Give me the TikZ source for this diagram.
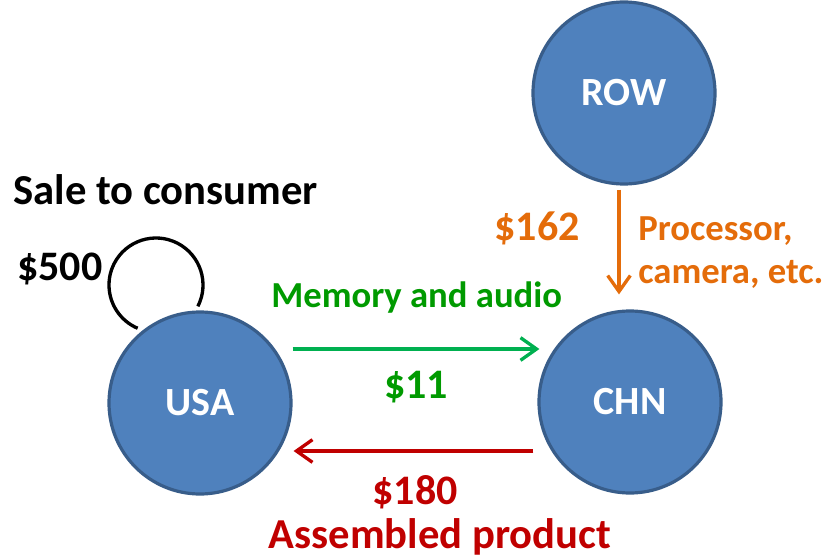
\documentclass[tikz,border=0pt]{standalone}
\usepackage{fontspec}
\setmainfont{Carlito}
\usetikzlibrary{arrows.meta,calc}
\definecolor{nodefill}{HTML}{4F81BD}
\definecolor{nodeline}{HTML}{385D8A}
\definecolor{flowgreen}{HTML}{00B050}
\definecolor{textgreen}{HTML}{009A00}
\definecolor{flowred}{HTML}{C00000}
\definecolor{floworange}{HTML}{E46C0A}
\tikzset{
  country/.style={circle, draw=nodeline, fill=nodefill, line width=2.4pt,
    minimum size=136.5pt, inner sep=0pt, text=white,
    font=\fontsize{30}{36}\selectfont\bfseries},
  flow/.style={line width=2.5pt, -{Straight Barb[length=12pt,width=17pt,line width=2.5pt]}},
  lbl/.style={inner sep=0pt},
  big/.style={font=\fontsize{32}{38}\selectfont\bfseries},
  amount/.style={font=\fontsize{31.5}{38}\selectfont\bfseries},
  note/.style={font=\fontsize{27.5}{33}\selectfont\bfseries}
}
\begin{document}
\begin{tikzpicture}[x=0.75pt,y=0.75pt]
\useasboundingbox (0,0) rectangle (825,558);
% countries
\node[country] (usa) at (200,155) {USA};
\node[country] (chn) at (630,156) {CHN};
\node[country] (row) at (624,465) {ROW};
% flows between countries
\draw[flow, flowgreen] ($(usa.east)+(0,54)$) -- ($(chn.west)+(2,53)$);
\draw[flow, flowred] ($(chn.west)+(-4,-49)$) -- ($(usa.east)+(1,-48)$);
\draw[flow, floworange] ($(row.south)+(-5,-4)$) -- ($(chn.north)+(-11,15)$);
% domestic sale loop
\coordinate (loopc) at (156,273);
\draw[line width=2.5pt] ($(loopc)+(-27:47)$) arc[start angle=-27, end angle=247, radius=47];
% labels
\node[lbl, big, anchor=base west] (sale) at (13,353) {Sale to consumer};
\node[lbl, amount, anchor=base west] (v500) at (17,278) {\$500};
\node[lbl, note, anchor=base west, text=textgreen] (mem) at (271,251) {Memory and audio};
\node[lbl, amount, anchor=base, text=textgreen] (v11) at (416,160) {\$11};
\node[lbl, amount, anchor=base, text=flowred] (v180) at (415,54) {\$180};
\node[lbl, big, anchor=base, text=flowred] (asm) at (440,10) {Assembled product};
\node[lbl, amount, anchor=base east, text=floworange] (v162) at (580,318) {\$162};
\node[lbl, note, anchor=base west, text=floworange] (proc) at (638,318) {Processor,};
\node[lbl, note, anchor=base west, text=floworange] (cam) at (638,275) {camera, etc.};
\end{tikzpicture}
\end{document}
